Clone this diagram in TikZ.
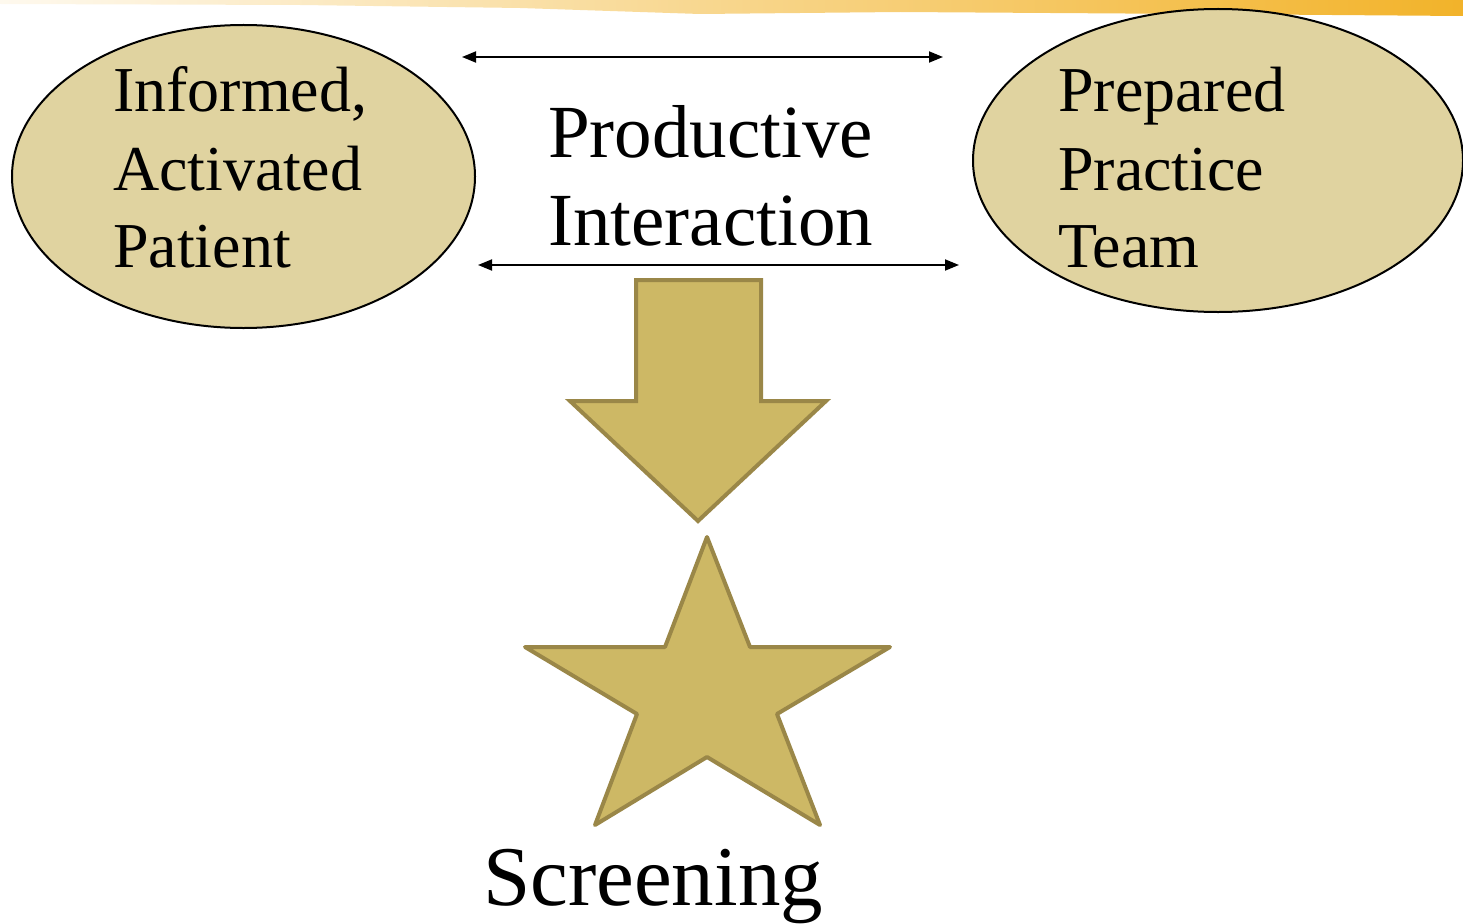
\documentclass[tikz,border=0pt]{standalone}
\usepackage{fontspec}
\setmainfont{Liberation Serif}
\usetikzlibrary{arrows.meta}
\definecolor{ellfill}{HTML}{E0D3A0}
\definecolor{goldfill}{HTML}{CDB865}
\definecolor{goldline}{HTML}{9A8748}
\definecolor{brush}{HTML}{F2B32A}
\begin{document}
\begin{tikzpicture}[x=1pt,y=-1pt,
  sidetxt/.style={anchor=base west,inner sep=0pt,font=\fontsize{64}{77}\selectfont},
  midtxt/.style={anchor=base west,inner sep=0pt,font=\fontsize{75}{88}\selectfont},
  dbl/.style={line width=1.8pt,{Triangle[length=14pt,width=11pt]}-{Triangle[length=14pt,width=11pt]}},
  gold/.style={fill=goldfill,draw=goldline,line width=4pt,line join=miter}]
\useasboundingbox (0,0) rectangle (1463,923);
% brush stroke
\shade[left color=brush!8,middle color=brush!85,right color=brush] (0,0) -- (1463,0) -- (1463,16) -- (1200,14) -- (900,12) -- (700,14) -- (520,8) -- (300,5) -- (0,4) -- cycle;
% ellipses
\draw[line width=2pt,fill=ellfill] (243.5,176.5) ellipse [x radius=231.5pt,y radius=151.5pt];
\draw[line width=2pt,fill=ellfill] (1218,160.5) ellipse [x radius=245pt,y radius=151.5pt];
\node[sidetxt] (l1) at (113,112) {Informed,};
\node[sidetxt] (l2) at (113,190) {Activated};
\node[sidetxt] (l3) at (113,267) {Patient};
\node[sidetxt] (r1) at (1058,112) {Prepared};
\node[sidetxt] (r2) at (1058,190) {Practice};
\node[sidetxt] (r3) at (1058,267) {Team};
\node[midtxt] (m1) at (548,157) {Productive};
\node[midtxt] (m2) at (548,245) {Interaction};
% double arrows
\coordinate (a1) at (462,57);
\coordinate (a2) at (943,57);
\coordinate (b1) at (478,265);
\coordinate (b2) at (959,265);
\draw[dbl] (a1) -- (a2);
\draw[dbl] (b1) -- (b2);
% block arrow
\draw[gold] (636,280) -- (761,280) -- (761,401) -- (826,401) -- (698,521) -- (570,401) -- (636,401) -- cycle;
% star
\draw[gold,line join=round] (707,537) -- (750,647) -- (890,647) -- (777,714) -- (820,825) -- (707,757) -- (595,825) -- (637,714) -- (525,647) -- (665,647) -- cycle;
\node[anchor=base west,inner sep=0pt,font=\fontsize{85}{96}\selectfont] (scr) at (483,905) {Screening};
\end{tikzpicture}
\end{document}
